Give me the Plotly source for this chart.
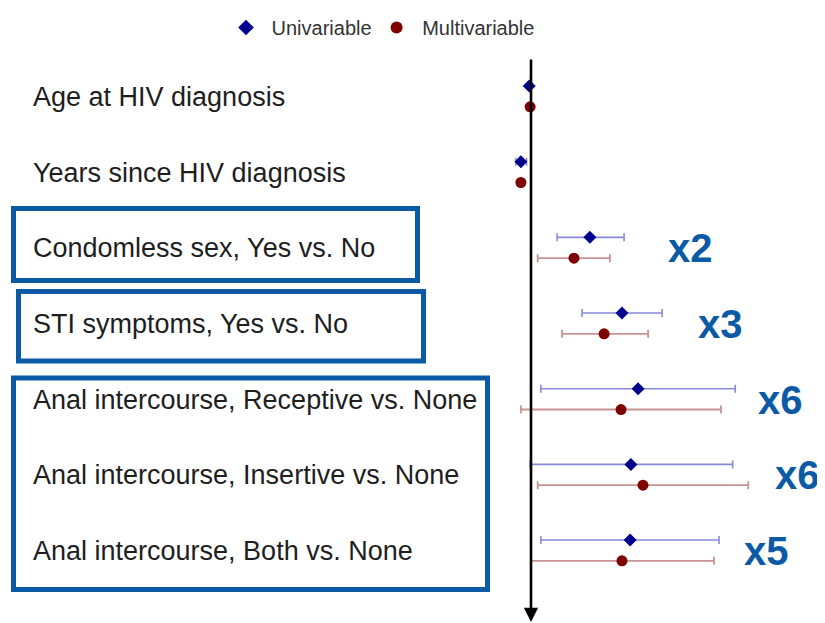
import plotly.graph_objects as go

# rows, top to bottom
labels = [
    "Age at HIV diagnosis",
    "Years since HIV diagnosis",
    "Condomless sex, Yes vs. No",
    "STI symptoms, Yes vs. No",
    "Anal intercourse, Receptive vs. None",
    "Anal intercourse, Insertive vs. None",
    "Anal intercourse, Both vs. None",
]

# odds ratios with 95% CI
uni_or = [0.98, 0.89, 1.97, 2.85, 3.43, 3.16, 3.13]
uni_lo = [0.97, 0.84, 1.35, 1.80, 1.12, 0.99, 1.12]
uni_hi = [0.99, 0.95, 2.92, 4.52, 10.5, 10.2, 8.71]

multi_or = [0.99, 0.89, 1.64, 2.32, 2.82, 3.63, 2.85]
multi_lo = [0.98, 0.87, 1.08, 1.43, 0.89, 1.08, 1.00]
multi_hi = [1.00, 0.91, 2.48, 3.85, 8.91, 12.2, 8.22]

# callouts on the right
callout_text = ["x2", "x3", "x6", "x6", "x5"]
callout_row = [2, 3, 4, 5, 6]

# page layout (the html body has an 8px margin, so the figure starts at 8,8)
OFF = 8
W, H = 825 - OFF, 623 - OFF
NULL_PX = 531          # pixel of OR = 1
DECADE_PX = 200        # pixels per decade of OR
ROW_PX = 75.67
ROW0_PX = 97
BLUE = "#0b5aa5"
FONT = "Liberation Sans, Arial"

callout_px = [690, 720, 780, 797, 766]


def px_x(p):
    return (p - OFF) / W


def px_y(p):
    return 1 - (p - OFF) / H


def row_at(p):
    return (p - ROW0_PX) / ROW_PX


rows = list(range(len(labels)))
y_uni = [r - 0.145 for r in rows]
y_multi = [r + 0.13 for r in rows]

fig = go.Figure()

fig.add_trace(go.Scatter(
    x=uni_or, y=y_uni, mode="markers", name=" Univariable",
    marker=dict(symbol="diamond", size=10, color="#00008f"),
    error_x=dict(type="data", symmetric=False,
                 array=[h - o for h, o in zip(uni_hi, uni_or)],
                 arrayminus=[o - l for o, l in zip(uni_or, uni_lo)],
                 color="rgba(40,40,190,0.55)", thickness=1.6, width=4),
))

fig.add_trace(go.Scatter(
    x=multi_or, y=y_multi, mode="markers", name=" Multivariable",
    marker=dict(symbol="circle", size=11, color="#7f0000"),
    error_x=dict(type="data", symmetric=False,
                 array=[h - o for h, o in zip(multi_hi, multi_or)],
                 arrayminus=[o - l for o, l in zip(multi_or, multi_lo)],
                 color="rgba(150,40,40,0.5)", thickness=1.8, width=4),
))

annotations = []
for r, lab in zip(rows, labels):
    annotations.append(dict(
        x=px_x(31), y=r, xref="paper", yref="y", text=lab, showarrow=False,
        xanchor="left", yanchor="middle",
        font=dict(family=FONT, size=27, color="#1e1e1e"),
    ))

for t, r, cx in zip(callout_text, callout_row, callout_px):
    annotations.append(dict(
        x=px_x(cx), y=r, xref="paper", yref="y", text="<b>%s</b>" % t,
        showarrow=False, xanchor="center", yanchor="middle",
        font=dict(family=FONT, size=40, color=BLUE),
    ))

# null line with arrow pointing down
annotations.append(dict(
    x=0, y=row_at(622), xref="x", yref="y",
    ax=0, ay=row_at(58), axref="x", ayref="y",
    showarrow=True, arrowhead=2, arrowsize=1.1, arrowwidth=2.6,
    arrowcolor="black", text="",
))

boxes = [(13.5, 208.5, 417.5, 280.5), (18.5, 291.5, 423.5, 361), (13.5, 378, 487.5, 589.5)]
shapes = []
for x0, y0, x1, y1 in boxes:
    shapes.append(dict(
        type="rect", xref="paper", yref="paper",
        x0=px_x(x0), x1=px_x(x1), y0=px_y(y0), y1=px_y(y1),
        line=dict(color=BLUE, width=5),
    ))

fig.update_layout(
    width=W, height=H,
    margin=dict(l=0, r=0, t=0, b=0),
    paper_bgcolor="white", plot_bgcolor="white",
    xaxis=dict(type="log",
               range=[(OFF - NULL_PX) / DECADE_PX, (825 - NULL_PX) / DECADE_PX],
               visible=False, showgrid=False, zeroline=False),
    yaxis=dict(range=[row_at(623), row_at(OFF)], visible=False,
               showgrid=False, zeroline=False),
    showlegend=True,
    legend=dict(orientation="h", x=px_x(226), xanchor="left", y=1.0, yanchor="top",
                font=dict(family=FONT, size=20, color="#333333"),
                itemsizing="constant", bgcolor="rgba(0,0,0,0)"),
    annotations=annotations,
    shapes=shapes,
)

fig.write_html("out.html")
